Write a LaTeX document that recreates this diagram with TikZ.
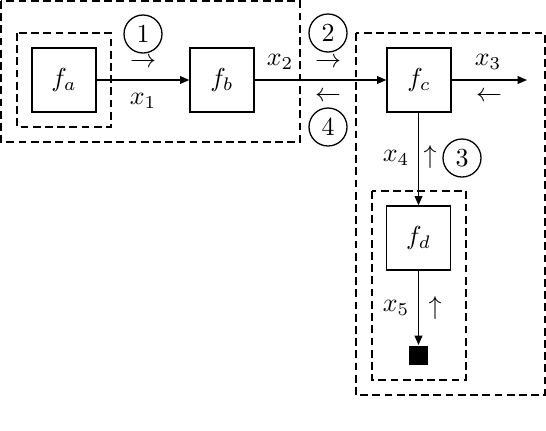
\documentclass[tikz,border=0pt]{standalone}
\usetikzlibrary{arrows.meta}
\begin{document}
\begin{tikzpicture}[x=0.385pt,y=-0.385pt,
  fbox/.style={draw,line width=0.5pt,minimum size=64*0.385pt,inner sep=0pt},
  grp/.style={draw,line width=0.5pt,dash pattern=on 3pt off 1.7pt},
  conn/.style={line width=0.5pt,-{Triangle[length=3.6pt,width=3pt]}},
  num/.style={draw,circle,line width=0.5pt,minimum size=38*0.385pt,inner sep=0pt},
  lbl/.style={inner sep=0pt},
  arr/.style={inner sep=0pt,text height=2.8pt,text depth=0pt}]
\useasboundingbox (0,0) rectangle (546,430);
% groups
\draw[grp] (1,1) rectangle (300,142);
\draw[grp] (17,33) rectangle (111,127);
\draw[grp] (356,33) rectangle (545,395);
\draw[grp] (372,191) rectangle (466,380);
% factor nodes
\node[fbox] (fa) at (64,80) {$f_a$};
\node[fbox] (fb) at (222,80) {$f_b$};
\node[fbox] (fc) at (419,80) {$f_c$};
\node[fbox] (fd) at (418.5,238) {$f_d$};
\node[fill=black,minimum size=19*0.385pt,inner sep=0pt] (obs) at (418.5,355) {};
\coordinate (end3) at (527,80);
% connectors
\draw[conn] (fa) -- (fb);
\draw[conn] (fb) -- (fc);
\draw[conn] (fc) -- (end3);
\draw[conn] (fc.south -| fd.north) -- (fd.north);
\draw[conn] (fd) -- (obs);
% labels
\node[num] (n1) at (143,34) {1};
\node[arr] (r1) at (143,64) {$\rightarrow$};
\node[lbl] (x1) at (143,101) {$x_1$};
\node[lbl] (x2) at (280,62) {$x_2$};
\node[num] (n2) at (328,33) {2};
\node[arr] (r2) at (328,64) {$\rightarrow$};
\node[arr] (l4) at (328,98) {$\leftarrow$};
\node[num] (n4) at (328,127) {4};
\node[lbl] (x3) at (488,62) {$x_3$};
\node[arr] (l3) at (489,98) {$\leftarrow$};
\node[lbl] (x4) at (396,158) {$x_4$};
\node[lbl] (u3) at (430,157) {$\uparrow$};
\node[num] (n3) at (462,158) {3};
\node[lbl] (x5) at (396,308) {$x_5$};
\node[lbl] (u5) at (435,308) {$\uparrow$};
\end{tikzpicture}
\end{document}
